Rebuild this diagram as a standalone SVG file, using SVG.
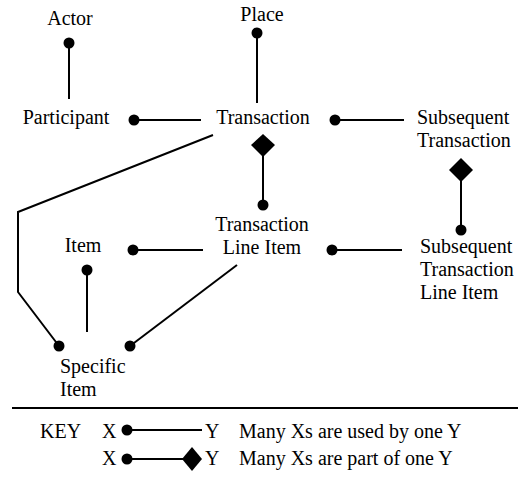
<svg xmlns="http://www.w3.org/2000/svg" width="518" height="479" viewBox="0 0 518 479">
<style>
text{font-family:'Liberation Serif','Times New Roman',Times,serif;font-size:20px;fill:#000}
.c{text-anchor:middle}
line,polyline{stroke:#000;stroke-width:2;fill:none}
.d{fill:#000}
</style>
<rect width="518" height="479" fill="#fff"/>
<g font-family="Liberation Serif, serif">
<g id="actor"><text class="c" x="70" y="25">Actor</text></g>
<g id="place"><text class="c" x="262" y="21">Place</text></g>
<g id="participant"><text class="c" x="66" y="124">Participant</text></g>
<g id="transaction"><text class="c" x="263" y="124">Transaction</text></g>
<g id="subsequent-transaction"><text x="417" y="124">Subsequent</text><text x="417" y="147">Transaction</text></g>
<g id="transaction-line-item"><text class="c" x="262" y="231">Transaction</text><text class="c" x="262" y="254">Line Item</text></g>
<g id="item"><text class="c" x="83" y="252">Item</text></g>
<g id="subsequent-transaction-line-item"><text x="420" y="253">Subsequent</text><text x="420" y="276">Transaction</text><text x="420" y="299">Line Item</text></g>
<g id="specific-item"><text x="60" y="373">Specific</text><text x="60" y="396">Item</text></g>
</g>
<g id="connectors">
<line x1="69" y1="43" x2="69" y2="99"/><circle class="d" cx="69" cy="43" r="5.5"/>
<line x1="257" y1="33" x2="257" y2="103"/><circle class="d" cx="257" cy="33" r="5.5"/>
<line x1="134" y1="120" x2="201" y2="120"/><circle class="d" cx="134" cy="120" r="5.5"/>
<line x1="335" y1="120" x2="404" y2="120"/><circle class="d" cx="335" cy="120" r="5.5"/>
<line x1="263" y1="150" x2="263" y2="205"/><polygon class="d" points="263,134 275,145 263,157 251,145"/><circle class="d" cx="263" cy="205" r="5.5"/>
<line x1="461" y1="175" x2="461" y2="230"/><polygon class="d" points="461,158 473,170 461,182 449,170"/><circle class="d" cx="461" cy="230" r="5.5"/>
<line x1="133" y1="250" x2="203" y2="250"/><circle class="d" cx="133" cy="250" r="5.5"/>
<line x1="332" y1="250" x2="402" y2="250"/><circle class="d" cx="332" cy="250" r="5.5"/>
<line x1="87" y1="270" x2="87" y2="332"/><circle class="d" cx="87" cy="270" r="5.5"/>
<line x1="237" y1="265" x2="130" y2="346"/><circle class="d" cx="130" cy="346" r="5.5"/>
<polyline points="213,135 18,212 18,292 59,346"/><circle class="d" cx="59" cy="346" r="5.5"/>
</g>
<g id="key" font-family="Liberation Serif, serif">
<line x1="12" y1="408" x2="518" y2="408"/>
<text x="40" y="438">KEY</text>
<text x="102" y="438">X</text>
<line x1="127" y1="430" x2="202" y2="430"/><circle class="d" cx="127" cy="430" r="5.5"/>
<text x="205" y="438">Y</text>
<text x="239" y="438">Many Xs are used by one Y</text>
<text x="102" y="465">X</text>
<line x1="127" y1="459" x2="186" y2="459"/><circle class="d" cx="127" cy="459" r="5.5"/>
<polygon class="d" points="192,447 202,459 192,471 182,459"/>
<text x="205" y="465">Y</text>
<text x="239" y="465">Many Xs are part of one Y</text>
</g>
</svg>
